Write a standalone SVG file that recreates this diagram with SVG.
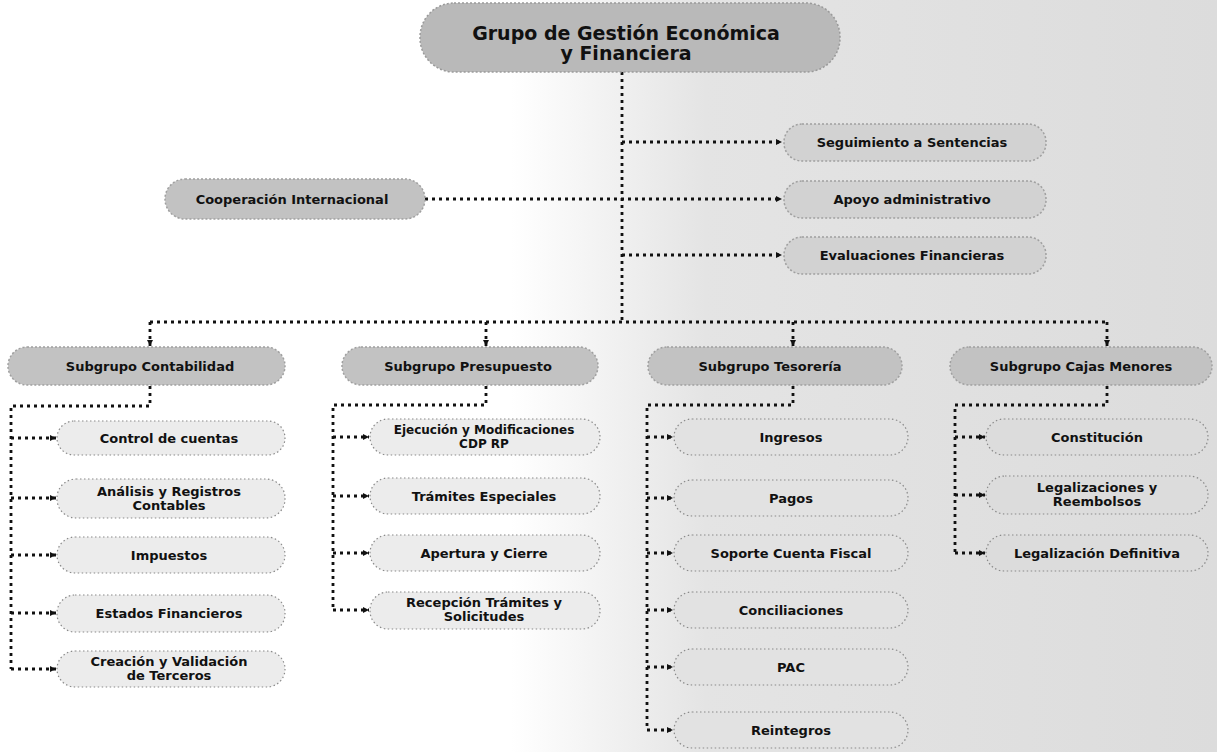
<svg xmlns="http://www.w3.org/2000/svg" width="1217" height="752" viewBox="0 0 1217 752">
<defs>
<style>
.lbl{font-family:"DejaVu Sans","Liberation Sans",sans-serif;font-weight:bold;font-size:13px;fill:#111;text-anchor:middle}
.big{font-size:19px}
.main{fill:#b9b9b9;stroke:#9a9a9a;stroke-width:1.5;stroke-dasharray:2 2}
.sub{fill:#c2c2c2;stroke:#a0a0a0;stroke-width:1.5;stroke-dasharray:2 2}
.leaf{fill:#ececec;stroke:#8a8a8a;stroke-width:1.2;stroke-dasharray:1.5 2.5}
.con{fill:none;stroke:#111;stroke-width:2.8;stroke-dasharray:3 4}
.arr{fill:none;stroke:#111;stroke-width:2.8;stroke-dasharray:3 4;marker-end:url(#ah)}
</style>
<marker id="ah" markerWidth="7" markerHeight="7" refX="6" refY="3.5" orient="auto" markerUnits="userSpaceOnUse">
<path d="M0,0.5 L6,3.5 L0,6.5 Z" fill="#111"/>
</marker>
<linearGradient id="bg" x1="0" y1="0" x2="1" y2="0">
<stop offset="0" stop-color="#ffffff"/>
<stop offset="0.42" stop-color="#ffffff"/>
<stop offset="0.58" stop-color="#e4e4e4"/>
<stop offset="1" stop-color="#dcdcdc"/>
</linearGradient>
</defs>
<rect width="1217" height="752" fill="url(#bg)"/>

<g id="connectors">
<path class="con" d="M622,72 V322"/>
<path class="arr" d="M622,142 H782"/>
<path class="arr" d="M425,199 H782"/>
<path class="arr" d="M622,255 H782"/>
<path class="con" d="M150,322 H1107"/>
<path class="arr" d="M150,322 V346"/>
<path class="arr" d="M486,322 V346"/>
<path class="arr" d="M793,322 V346"/>
<path class="arr" d="M1107,322 V346"/>

<path class="con" d="M150,386 V406 H11 V669"/>
<path class="arr" d="M11,438 H56"/>
<path class="arr" d="M11,498 H56"/>
<path class="arr" d="M11,555 H56"/>
<path class="arr" d="M11,613 H56"/>
<path class="arr" d="M11,669 H56"/>

<path class="con" d="M486,386 V405 H333 V610"/>
<path class="arr" d="M333,437 H369"/>
<path class="arr" d="M333,496 H369"/>
<path class="arr" d="M333,553 H369"/>
<path class="arr" d="M333,610 H369"/>

<path class="con" d="M793,386 V405 H647 V730"/>
<path class="arr" d="M647,437 H673"/>
<path class="arr" d="M647,498 H673"/>
<path class="arr" d="M647,553 H673"/>
<path class="arr" d="M647,610 H673"/>
<path class="arr" d="M647,667 H673"/>
<path class="arr" d="M647,730 H673"/>

<path class="con" d="M1107,386 V405 H955 V553"/>
<path class="arr" d="M955,437 H985"/>
<path class="arr" d="M955,495 H985"/>
<path class="arr" d="M955,553 H985"/>
</g>

<g id="n-root"><rect class="main" x="420" y="3" width="420" height="69" rx="34"/>
<text class="lbl big" x="626" y="40">Grupo de Gestión Económica</text>
<text class="lbl big" x="626" y="60">y Financiera</text></g>

<g id="n-seguimiento"><rect class="sub" x="784" y="124" width="262" height="37" rx="18" style="fill:#d2d2d2"/>
<text class="lbl" x="912" y="147">Seguimiento a Sentencias</text></g>
<g id="n-apoyo"><rect class="sub" x="784" y="181" width="262" height="37" rx="18" style="fill:#d2d2d2"/>
<text class="lbl" x="912" y="204">Apoyo administrativo</text></g>
<g id="n-evaluaciones"><rect class="sub" x="784" y="237" width="262" height="37" rx="18" style="fill:#d2d2d2"/>
<text class="lbl" x="912" y="260">Evaluaciones Financieras</text></g>
<g id="n-cooperacion"><rect class="sub" x="165" y="179" width="260" height="40" rx="20"/>
<text class="lbl" x="292" y="204">Cooperación Internacional</text></g>

<g id="n-contabilidad"><rect class="sub" x="8" y="347" width="277" height="38" rx="19"/>
<text class="lbl" x="150" y="371">Subgrupo Contabilidad</text></g>
<g id="n-presupuesto"><rect class="sub" x="342" y="347" width="256" height="38" rx="19"/>
<text class="lbl" x="468" y="371">Subgrupo Presupuesto</text></g>
<g id="n-tesoreria"><rect class="sub" x="648" y="347" width="254" height="38" rx="19"/>
<text class="lbl" x="770" y="371">Subgrupo Tesorería</text></g>
<g id="n-cajas"><rect class="sub" x="950" y="347" width="262" height="38" rx="19"/>
<text class="lbl" x="1081" y="371">Subgrupo Cajas Menores</text></g>

<g id="n-control"><rect class="leaf" x="57" y="421" width="228" height="34" rx="17"/>
<text class="lbl" x="169" y="443">Control de cuentas</text></g>
<g id="n-analisis"><rect class="leaf" x="57" y="479" width="228" height="39" rx="19"/>
<text class="lbl" x="169" y="496">Análisis y Registros</text>
<text class="lbl" x="169" y="510">Contables</text></g>
<g id="n-impuestos"><rect class="leaf" x="57" y="537" width="228" height="36" rx="18"/>
<text class="lbl" x="169" y="560">Impuestos</text></g>
<g id="n-estados"><rect class="leaf" x="57" y="595" width="228" height="37" rx="18"/>
<text class="lbl" x="169" y="618">Estados Financieros</text></g>
<g id="n-creacion"><rect class="leaf" x="57" y="651" width="228" height="36" rx="18"/>
<text class="lbl" x="169" y="666">Creación y Validación</text>
<text class="lbl" x="169" y="680">de Terceros</text></g>

<g id="n-ejecucion"><rect class="leaf" x="370" y="419" width="230" height="36" rx="18"/>
<text class="lbl" x="484" y="434" style="font-size:12px">Ejecución y Modificaciones</text>
<text class="lbl" x="484" y="448" style="font-size:12px">CDP RP</text></g>
<g id="n-tramites"><rect class="leaf" x="370" y="478" width="230" height="36" rx="18"/>
<text class="lbl" x="484" y="501">Trámites Especiales</text></g>
<g id="n-apertura"><rect class="leaf" x="370" y="535" width="230" height="36" rx="18"/>
<text class="lbl" x="484" y="558">Apertura y Cierre</text></g>
<g id="n-recepcion"><rect class="leaf" x="370" y="592" width="230" height="37" rx="18"/>
<text class="lbl" x="484" y="607">Recepción Trámites y</text>
<text class="lbl" x="484" y="621">Solicitudes</text></g>

<g id="n-ingresos"><rect class="leaf" x="674" y="419" width="234" height="36" rx="18" style="fill:#e2e2e2"/>
<text class="lbl" x="791" y="442">Ingresos</text></g>
<g id="n-pagos"><rect class="leaf" x="674" y="480" width="234" height="36" rx="18" style="fill:#e2e2e2"/>
<text class="lbl" x="791" y="503">Pagos</text></g>
<g id="n-soporte"><rect class="leaf" x="674" y="535" width="234" height="36" rx="18" style="fill:#e2e2e2"/>
<text class="lbl" x="791" y="558">Soporte Cuenta Fiscal</text></g>
<g id="n-conciliaciones"><rect class="leaf" x="674" y="592" width="234" height="36" rx="18" style="fill:#e2e2e2"/>
<text class="lbl" x="791" y="615">Conciliaciones</text></g>
<g id="n-pac"><rect class="leaf" x="674" y="649" width="234" height="36" rx="18" style="fill:#e2e2e2"/>
<text class="lbl" x="791" y="672">PAC</text></g>
<g id="n-reintegros"><rect class="leaf" x="674" y="712" width="234" height="36" rx="18" style="fill:#e2e2e2"/>
<text class="lbl" x="791" y="735">Reintegros</text></g>

<g id="n-constitucion"><rect class="leaf" x="986" y="419" width="222" height="36" rx="18" style="fill:#dcdcdc"/>
<text class="lbl" x="1097" y="442">Constitución</text></g>
<g id="n-legalizaciones"><rect class="leaf" x="986" y="476" width="222" height="38" rx="19" style="fill:#dcdcdc"/>
<text class="lbl" x="1097" y="492">Legalizaciones y</text>
<text class="lbl" x="1097" y="506">Reembolsos</text></g>
<g id="n-definitiva"><rect class="leaf" x="986" y="535" width="222" height="36" rx="18" style="fill:#dcdcdc"/>
<text class="lbl" x="1097" y="558">Legalización Definitiva</text></g>
</svg>
